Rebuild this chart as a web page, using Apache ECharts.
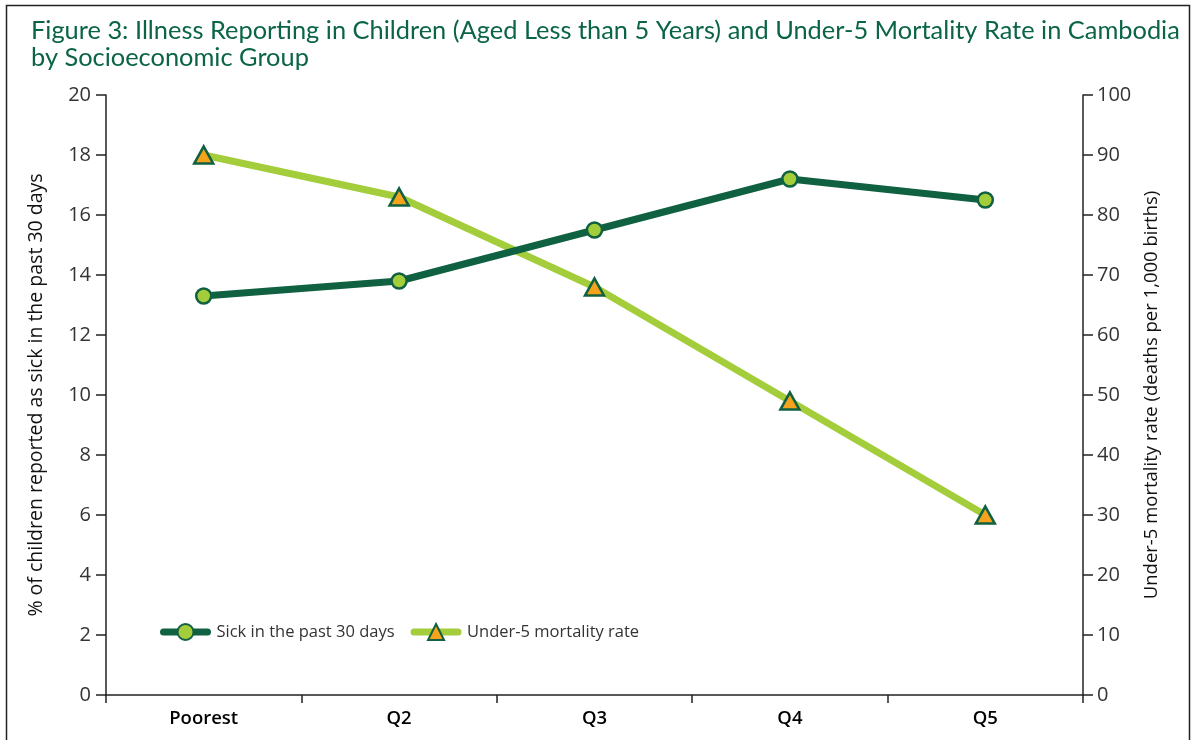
<!DOCTYPE html>
<html>
<head>
<meta charset="utf-8">
<script src="https://cdn.jsdelivr.net/npm/echarts@6/dist/echarts.min.js"></script>
<style>
html,body{margin:0;padding:0;background:#fff;}
#chart{width:1193px;height:740px;}
</style>
</head>
<body>
<div id="chart"></div>
<script>
const titleText = 'Figure 3: Illness Reporting in Children (Aged Less than 5 Years) and Under-5 Mortality Rate in Cambodia\nby Socioeconomic Group';
const categories = ['Poorest', 'Q2', 'Q3', 'Q4', 'Q5'];
const sickName = 'Sick in the past 30 days';
const mortalityName = 'Under-5 mortality rate';
const sickValues = [13.3, 13.8, 15.5, 17.2, 16.5];
const mortalityValues = [90, 83, 68, 49, 30];
const leftAxisName = '% of children reported as sick in the past 30 days';
const rightAxisName = 'Under-5 mortality rate (deaths per 1,000 births)';

const FONT = 'Open Sans';
const TFONT = 'Lato';
const DARK = '#0f6141';
const LIGHT = '#a4cd3c';
const ORANGE = '#f5a31c';
const AXIS = '#222';

const chart = echarts.init(document.getElementById('chart'), null, {renderer: 'canvas'});
chart.setOption({
  animation: false,
  backgroundColor: '#fff',
  textStyle: {fontFamily: FONT},
  title: {
    text: titleText,
    left: 26, top: 12,
    textStyle: {fontFamily: TFONT, fontSize: 25.4, fontWeight: 'normal', color: '#0b6545', lineHeight: 27}
  },
  graphic: [{
    type: 'rect', silent: true, z: 100,
    shape: {x: 6.5, y: 5.5, width: 1183, height: 780},
    style: {fill: 'none', stroke: AXIS, lineWidth: 1.5}
  }],
  legend: {
    left: 155, top: 618,
    itemWidth: 44, itemHeight: 20, itemGap: 16,
    lineStyle: {width: 7, cap: 'round'},
    textStyle: {fontFamily: FONT, fontSize: 16.5, color: '#333', padding: [0, 0, 0, 4]},
    data: [sickName, mortalityName]
  },
  grid: {left: 106, right: 110, top: 95, bottom: 45},
  xAxis: {
    type: 'category',
    data: categories,
    boundaryGap: true,
    axisLine: {lineStyle: {color: AXIS, width: 1.5}},
    axisTick: {show: true, length: 8, interval: 0, lineStyle: {color: AXIS, width: 1.5}},
    axisLabel: {fontFamily: FONT, fontSize: 18.5, color: '#000', fontWeight: 600, margin: 14, interval: 0}
  },
  yAxis: [{
    type: 'value', position: 'left',
    min: 0, max: 20, interval: 2,
    name: leftAxisName, nameLocation: 'middle', nameRotate: 90, nameGap: 60,
    nameTextStyle: {fontFamily: FONT, fontSize: 19.5, color: '#111'},
    axisLine: {show: true, lineStyle: {color: AXIS, width: 1.5}},
    axisTick: {show: true, length: 10, lineStyle: {color: AXIS, width: 1.5}},
    axisLabel: {fontFamily: FONT, fontSize: 20, color: '#333', margin: 15},
    splitLine: {show: false}
  }, {
    type: 'value', position: 'right',
    min: 0, max: 100, interval: 10,
    name: rightAxisName, nameLocation: 'middle', nameRotate: 90, nameGap: 58,
    nameTextStyle: {fontFamily: FONT, fontSize: 18.5, color: '#111'},
    axisLine: {show: true, lineStyle: {color: AXIS, width: 1.5}},
    axisTick: {show: true, length: 10, lineStyle: {color: AXIS, width: 1.5}},
    axisLabel: {fontFamily: FONT, fontSize: 20, color: '#333', margin: 14},
    splitLine: {show: false}
  }],
  series: [{
    name: sickName,
    type: 'line',
    yAxisIndex: 0,
    data: sickValues,
    symbol: 'circle', symbolSize: 15,
    lineStyle: {color: DARK, width: 7, cap: 'round'},
    itemStyle: {color: LIGHT, borderColor: DARK, borderWidth: 2.5},
    z: 3
  }, {
    name: mortalityName,
    type: 'line',
    yAxisIndex: 1,
    data: mortalityValues,
    symbol: 'triangle', symbolSize: [19, 17],
    lineStyle: {color: LIGHT, width: 7, cap: 'round'},
    itemStyle: {color: ORANGE, borderColor: DARK, borderWidth: 2.5},
    z: 2
  }]
});
</script>
</body>
</html>
